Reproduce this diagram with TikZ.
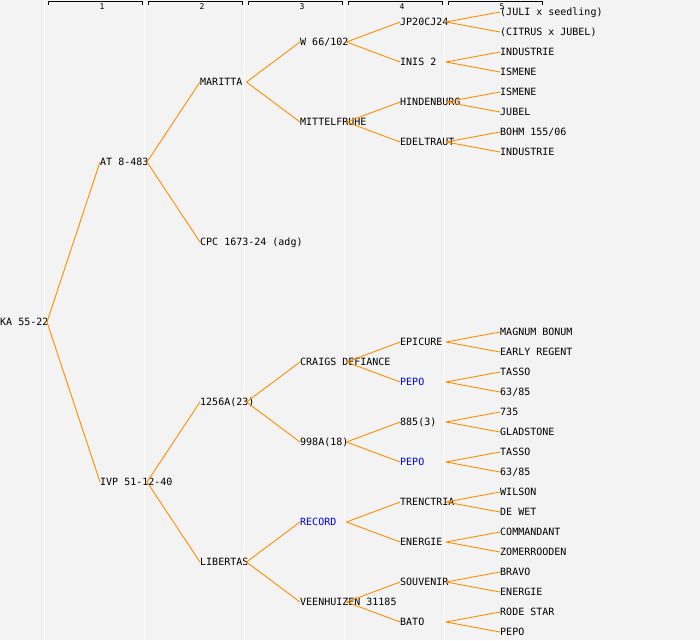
\documentclass[tikz,border=0pt]{standalone}
\usepackage{fontspec}
\usepackage{tikz}
\newfontfamily\treefont{DejaVu Sans Mono}
\definecolor{panelgray}{HTML}{F3F3F3}
\definecolor{linkorange}{HTML}{FF8C00}
\definecolor{namedblue}{HTML}{0000FF}

\begin{document}
\begin{tikzpicture}[x=1pt, y=-1pt,
    cv/.style={anchor=west, inner sep=0pt, text height=7pt, text depth=0pt,
               font=\treefont\fontsize{10}{12}\selectfont},
    named/.style={cv, text=namedblue},
    link/.style={draw=linkorange, line width=0.9pt, line join=round},
    colnum/.style={inner sep=0pt, font=\treefont\fontsize{8}{9}\selectfont}]

    % Panel and column separators
    \useasboundingbox (0,0) rectangle (700,640);
    \fill[panelgray] (0,0) rectangle (700,640);
    \draw[white, line width=1pt] (44.5,0) -- (44.5,640);
    \draw[white, line width=1pt] (144.5,0) -- (144.5,640);
    \draw[white, line width=1pt] (244.5,0) -- (244.5,640);
    \draw[white, line width=1pt] (344.5,0) -- (344.5,640);
    \draw[white, line width=1pt] (444.5,0) -- (444.5,640);

    % Generation brackets
    \draw[line width=0.9pt] (48.5,4.5) |- (142.5,1.5) -- (142.5,4.5);
    \draw[line width=0.9pt] (148.5,4.5) |- (242.5,1.5) -- (242.5,4.5);
    \draw[line width=0.9pt] (248.5,4.5) |- (342.5,1.5) -- (342.5,4.5);
    \draw[line width=0.9pt] (348.5,4.5) |- (442.5,1.5) -- (442.5,4.5);
    \draw[line width=0.9pt] (448.5,4.5) |- (542.5,1.5) -- (542.5,4.5);
    \node[colnum] (gen1) at (102,6.5) {1};
    \node[colnum] (gen2) at (202,6.5) {2};
    \node[colnum] (gen3) at (302,6.5) {3};
    \node[colnum] (gen4) at (402,6.5) {4};
    \node[colnum] (gen5) at (502,6.5) {5};

    % Generation 0
    \node[cv] (ka) at (0,322) {KA 55-22};

    % Generation 1
    \node[cv] (at) at (100,162) {AT 8-483};
    \node[cv] (ivp) at (100,482) {IVP 51-12-40};

    % Generation 2
    \node[cv] (maritta) at (200,82) {MARITTA};
    \node[cv] (cpc) at (200,242) {CPC 1673-24 (adg)};
    \node[cv] (b1256a) at (200,402) {1256A(23)};
    \node[cv] (libertas) at (200,562) {LIBERTAS};

    % Generation 3
    \node[cv] (w66) at (300,42) {W 66/102};
    \node[cv] (mittel) at (300,122) {MITTELFRUHE};
    \node[cv] (craigs) at (300,362) {CRAIGS DEFIANCE};
    \node[cv] (b998a) at (300,442) {998A(18)};
    \node[named] (record) at (300,522) {RECORD};
    \node[cv] (veen) at (300,602) {VEENHUIZEN 31185};

    % Generation 4
    \node[cv] (jp20) at (400,22) {JP20CJ24};
    \node[cv] (inis) at (400,62) {INIS 2};
    \node[cv] (hinden) at (400,102) {HINDENBURG};
    \node[cv] (edel) at (400,142) {EDELTRAUT};
    \node[cv] (epicure) at (400,342) {EPICURE};
    \node[named] (pepoA) at (400,382) {PEPO};
    \node[cv] (b885) at (400,422) {885(3)};
    \node[named] (pepoB) at (400,462) {PEPO};
    \node[cv] (trenc) at (400,502) {TRENCTRIA};
    \node[cv] (energieA) at (400,542) {ENERGIE};
    \node[cv] (souv) at (400,582) {SOUVENIR};
    \node[cv] (bato) at (400,622) {BATO};

    % Generation 5
    \node[cv] (juli) at (500,12) {(JULI x seedling)};
    \node[cv] (citrus) at (500,32) {(CITRUS x JUBEL)};
    \node[cv] (industrieA) at (500,52) {INDUSTRIE};
    \node[cv] (ismeneA) at (500,72) {ISMENE};
    \node[cv] (ismeneB) at (500,92) {ISMENE};
    \node[cv] (jubel) at (500,112) {JUBEL};
    \node[cv] (bohm) at (500,132) {BOHM 155/06};
    \node[cv] (industrieB) at (500,152) {INDUSTRIE};
    \node[cv] (magnum) at (500,332) {MAGNUM BONUM};
    \node[cv] (early) at (500,352) {EARLY REGENT};
    \node[cv] (tassoA) at (500,372) {TASSO};
    \node[cv] (s6385A) at (500,392) {63/85};
    \node[cv] (s735) at (500,412) {735};
    \node[cv] (gladstone) at (500,432) {GLADSTONE};
    \node[cv] (tassoB) at (500,452) {TASSO};
    \node[cv] (s6385B) at (500,472) {63/85};
    \node[cv] (wilson) at (500,492) {WILSON};
    \node[cv] (dewet) at (500,512) {DE WET};
    \node[cv] (command) at (500,532) {COMMANDANT};
    \node[cv] (zomer) at (500,552) {ZOMERROODEN};
    \node[cv] (bravo) at (500,572) {BRAVO};
    \node[cv] (energieB) at (500,592) {ENERGIE};
    \node[cv] (rode) at (500,612) {RODE STAR};
    \node[cv] (pepoC) at (500,632) {PEPO};

    % Parent links, child -- parent -- child
    \draw[link] (at.west) -- ([xshift=47pt]ka.west) -- (ivp.west);

    \draw[link] (maritta.west) -- ([xshift=47pt]at.west) -- (cpc.west);
    \draw[link] (b1256a.west) -- ([xshift=47pt]ivp.west) -- (libertas.west);

    \draw[link] (w66.west) -- ([xshift=46.5pt]maritta.west) -- (mittel.west);
    \draw[link] (craigs.west) -- ([xshift=46.5pt]b1256a.west) -- (b998a.west);
    \draw[link] (record.west) -- ([xshift=46.5pt]libertas.west) -- (veen.west);

    \draw[link] (jp20.west) -- ([xshift=46.5pt]w66.west) -- (inis.west);
    \draw[link] (hinden.west) -- ([xshift=46.5pt]mittel.west) -- (edel.west);
    \draw[link] (epicure.west) -- ([xshift=46.5pt]craigs.west) -- (pepoA.west);
    \draw[link] (b885.west) -- ([xshift=46.5pt]b998a.west) -- (pepoB.west);
    \draw[link] (trenc.west) -- ([xshift=46.5pt]record.west) -- (energieA.west);
    \draw[link] (souv.west) -- ([xshift=46.5pt]veen.west) -- (bato.west);

    \draw[link] (juli.west) -- ([xshift=46pt]jp20.west) -- (citrus.west);
    \draw[link] (industrieA.west) -- ([xshift=46pt]inis.west) -- (ismeneA.west);
    \draw[link] (ismeneB.west) -- ([xshift=46pt]hinden.west) -- (jubel.west);
    \draw[link] (bohm.west) -- ([xshift=46pt]edel.west) -- (industrieB.west);
    \draw[link] (magnum.west) -- ([xshift=46pt]epicure.west) -- (early.west);
    \draw[link] (tassoA.west) -- ([xshift=46pt]pepoA.west) -- (s6385A.west);
    \draw[link] (s735.west) -- ([xshift=46pt]b885.west) -- (gladstone.west);
    \draw[link] (tassoB.west) -- ([xshift=46pt]pepoB.west) -- (s6385B.west);
    \draw[link] (wilson.west) -- ([xshift=46pt]trenc.west) -- (dewet.west);
    \draw[link] (command.west) -- ([xshift=46pt]energieA.west) -- (zomer.west);
    \draw[link] (bravo.west) -- ([xshift=46pt]souv.west) -- (energieB.west);
    \draw[link] (rode.west) -- ([xshift=46pt]bato.west) -- (pepoC.west);
\end{tikzpicture}
\end{document}
